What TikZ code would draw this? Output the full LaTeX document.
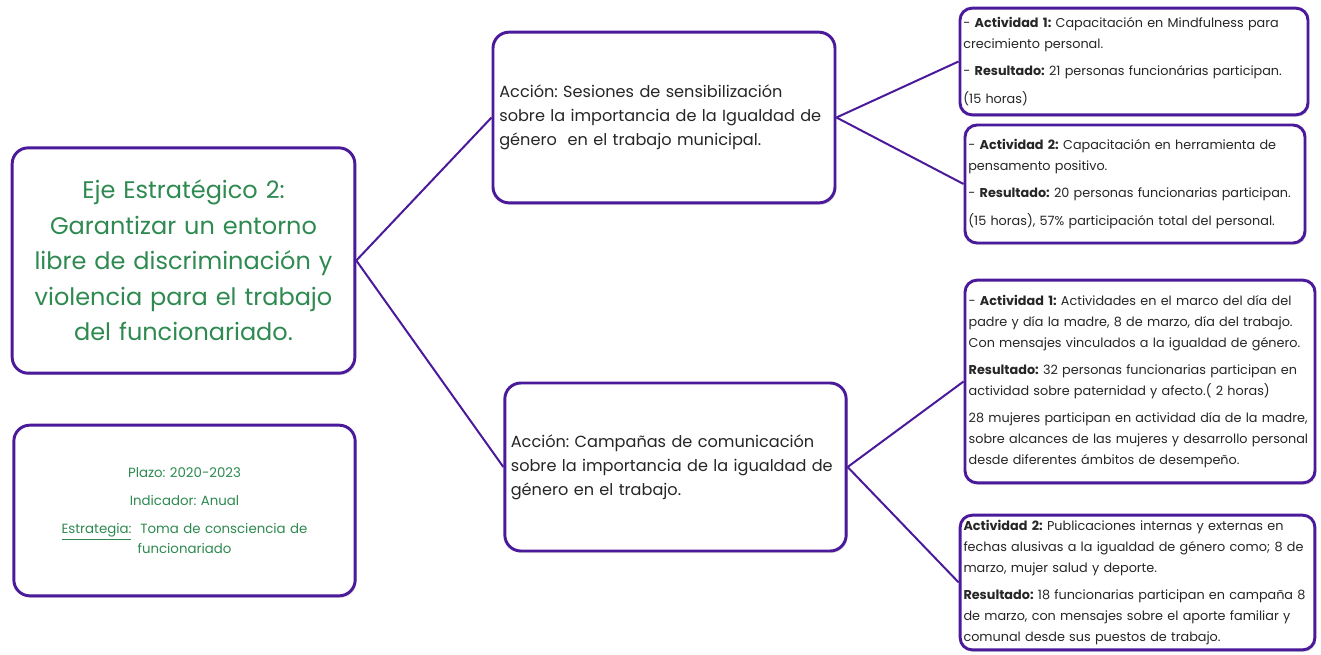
\documentclass[tikz,border=0pt]{standalone}
\usepackage{fontspec}
\setmainfont{Poppins}
\frenchspacing
\usetikzlibrary{shadows}
\definecolor{EjeGreen}{HTML}{2E8A50}
\definecolor{BoxPurple}{HTML}{4A1A9A}
\definecolor{TextGray}{HTML}{262626}
\tikzset{
    box/.style={rectangle, draw=BoxPurple, line width=2.2pt, fill=white,
                rounded corners=12pt, inner sep=0,
                drop shadow={opacity=0.25, shadow xshift=1pt, shadow yshift=-1.5pt}},
    smallbox/.style={box, rounded corners=9pt},
    ejestyle/.style={align=center, text=EjeGreen, font=\fontsize{18}{26.6}\selectfont},
    infostyle/.style={align=center, text=EjeGreen, font=\fontsize{10}{15}\selectfont},
    accionstyle/.style={align=left, text=TextGray, font=\fontsize{12.1}{18}\selectfont},
    actstyle/.style={align=left, text=TextGray, font=\fontsize{9.6}{15.6}\selectfont},
    link/.style={draw=BoxPurple, line width=1.5pt},
}

\begin{document}
\begin{tikzpicture}[x=0.75pt, y=-0.75pt]
        \useasboundingbox (0,0) rectangle (1321,654);
        %
        % Left column
        \node[box, ejestyle, minimum width=257pt, minimum height=169pt,
              text width=250pt] (eje) at (183.5,260.5)
              {Eje Estratégico 2:\\ Garantizar un entorno\\ libre de discriminación y\\
               violencia para el trabajo\\ del funcionariado.};
        \node[box, infostyle, minimum width=256pt, minimum height=128pt,
              text width=245pt] (plazo) at (184.5,510.5)
              {Plazo: 2020-2023\\[6pt] Indicador: Anual\\[6pt]
               \underline{Estrategia:}\ \ Toma de consciencia de\\ funcionariado};
        %
        %
        % Middle column
        \node[box, accionstyle, minimum width=256.5pt, minimum height=128pt,
              text width=247pt] (acc1) at (664,117.5)
              {Acción: Sesiones de sensibilización\\ sobre la importancia de la Igualdad de\\
               género\ \ en el trabajo municipal.};
        \node[box, accionstyle, minimum width=256pt, minimum height=126pt,
              text width=247pt] (acc2) at (675.5,467)
              {Acción: Campañas de comunicación\\ sobre la importancia de la igualdad de\\
               género en el trabajo.};
        %
        %
        % Right column
        \node[smallbox, actstyle, minimum width=261pt, minimum height=80pt,
              text width=256pt] (act1a) at (1134,61.5)
              {- \textbf{Actividad 1:} Capacitación en Mindfulness para\\ crecimiento personal.\\[5pt]
               - \textbf{Resultado:} 21 personas funcionárias participan.\\[5pt] (15 horas)};
        \node[smallbox, actstyle, minimum width=255pt, minimum height=88.5pt,
              text width=250pt] (act1b) at (1135,184)
              {- \textbf{Actividad 2:} Capacitación en herramienta de\\ pensamento positivo.\\[5pt]
               - \textbf{Resultado:} 20 personas funcionarias participan.\\[5pt]
               (15 horas), 57\% participación total del personal.};
        \node[smallbox, actstyle, minimum width=262.5pt, minimum height=152pt,
              text width=257pt] (act2a) at (1140,381.5)
              {- \textbf{Actividad 1:} Actividades en el marco del día del\\
               padre y día la madre, 8 de marzo, día del trabajo.\\
               Con mensajes vinculados a la igualdad de género.\\[5pt]
               \textbf{Resultado:} 32 personas funcionarias participan en\\
               actividad sobre paternidad y afecto.( 2 horas)\\[5pt]
               28 mujeres participan en actividad día de la madre,\\
               sobre alcances de las mujeres y desarrollo personal\\
               desde diferentes ámbitos de desempeño.};
        \node[smallbox, actstyle, minimum width=266pt, minimum height=101pt,
              text width=261pt] (act2b) at (1137.5,582.5)
              {\textbf{Actividad 2:} Publicaciones internas y externas en\\
               fechas alusivas a la igualdad de género como; 8 de\\
               marzo, mujer salud y deporte.\\[5pt]
               \textbf{Resultado:} 18 funcionarias participan en campaña 8\\
               de marzo, con mensajes sobre el aporte familiar y\\
               comunal desde sus puestos de trabajo.};
        %
        %
        % Connectors
        \draw[link] (eje.east) -- (acc1.west);
        \draw[link] (eje.east) -- (acc2.west);
        \draw[link] (acc1.east) -- (act1a.west);
        \draw[link] (acc1.east) -- (act1b.west);
        \draw[link] (acc2.east) -- (act2a.west);
        \draw[link] (acc2.east) -- (act2b.west);
    \end{tikzpicture}
\end{document}
